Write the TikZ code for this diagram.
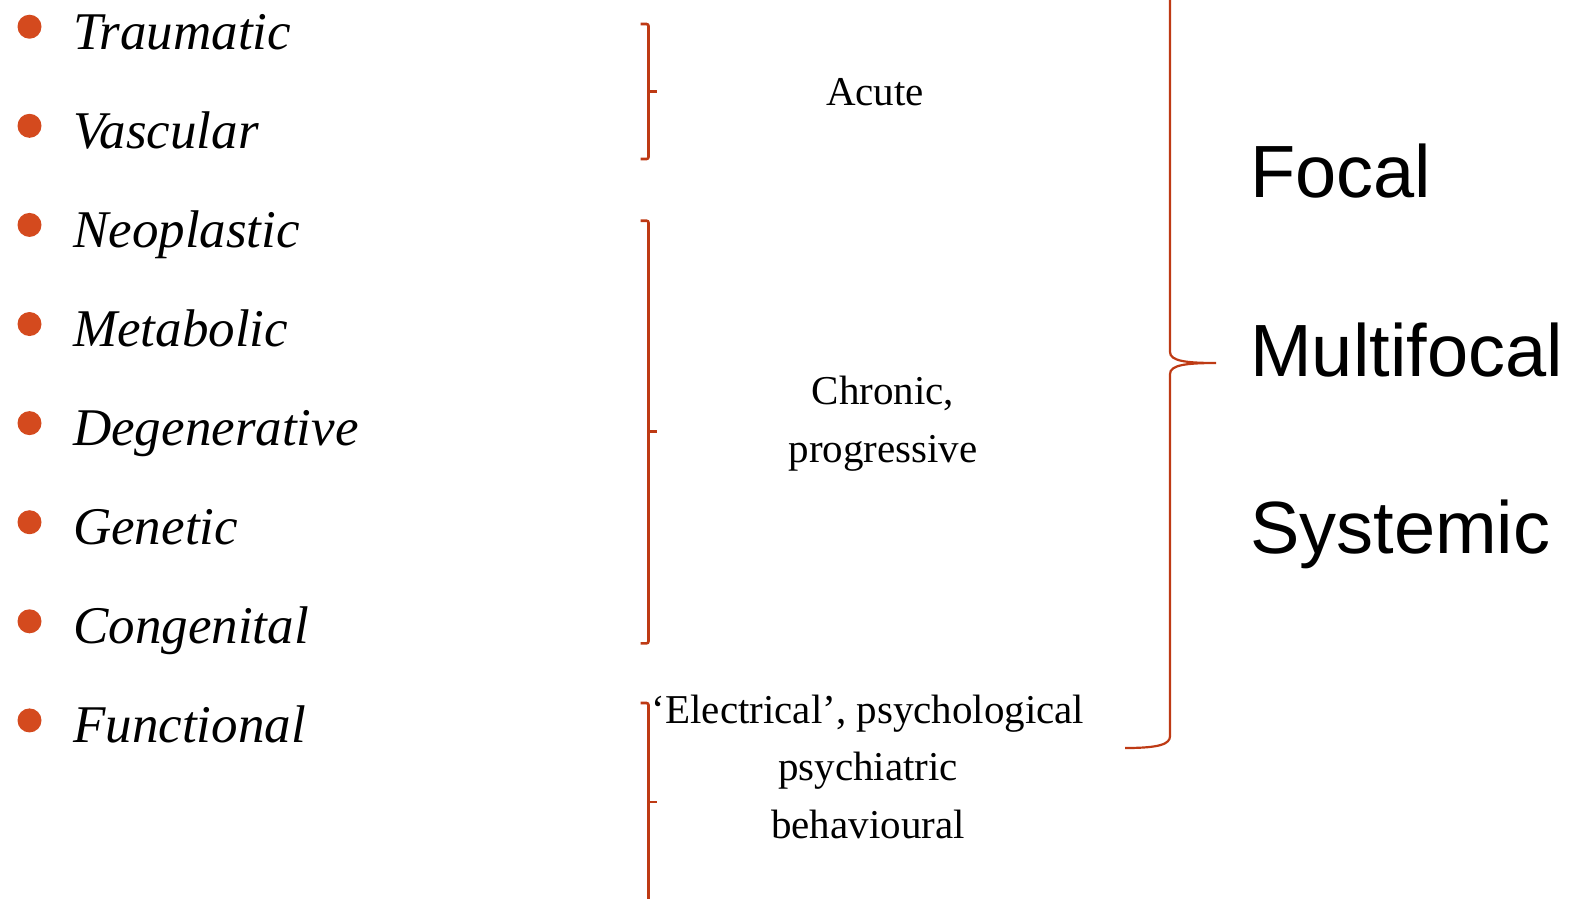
\documentclass[tikz,border=0pt]{standalone}
\usepackage{fontspec}
\setmainfont{Liberation Serif}
\setsansfont{Liberation Sans}
\usepackage{tikz}
\definecolor{bulletred}{RGB}{212,74,30}
\definecolor{bracered}{RGB}{190,58,20}
\tikzset{
    bracket/.style={draw=bracered, line width=2.6, rounded corners=2},
    item/.style={font=\fontsize{53}{60}\selectfont\itshape, inner sep=0, anchor=base west},
    group/.style={font=\fontsize{41}{57.5}\selectfont, align=center, inner sep=0, anchor=base},
    extent/.style={font=\sffamily\fontsize{74}{80}\selectfont, inner sep=0, anchor=base west}
}
\newcommand{\groupBracket}[5]{
    % Corner points of the bracket
    \coordinate (#1top) at (#2,#3);
    \coordinate (#1tick) at (#2,#4);
    \coordinate (#1bot) at (#2,#5);

    % Draw the bracket and its middle tick
    \draw[bracket] ([xshift=-8]#1top) -- (#1top) -- (#1bot) -- ([xshift=-8]#1bot);
    \draw[bracket, rounded corners=0] (#1tick) -- ++(8.5,0);
}

\begin{document}
\begin{tikzpicture}[x=1pt, y=-1pt]
  \useasboundingbox (0,0) rectangle (1578,898);
  \clip (0,0) rectangle (1578,898);

  % Bulleted list of causes
  \foreach \name [count=\i from 0] in {Traumatic,Vascular,Neoplastic,Metabolic,Degenerative,Genetic,Congenital,Functional} {
    \fill[bulletred] (29.5,26.7+99.1*\i) circle [radius=12];
    \node[item] (\name) at (73,49.2+99.1*\i) {\name};
  }

  % Brackets grouping the causes
  \groupBracket{acute}{648.5}{24}{91.7}{159}
  \groupBracket{chronic}{648.5}{220.7}{431.7}{643.3}
  \groupBracket{func}{648.5}{703}{802}{960}

  % Label the groups (base is the last line)
  \node[group] (acute) at (875,105) {Acute};
  \node[group] (chronic) at (883,462) {Chronic,\\progressive};
  \node[group] (func) at (868,838) {`Electrical', psychological\\psychiatric\\behavioural};

  % Big brace on the right
  \coordinate (bracetop) at (1125,-22);
  \coordinate (bracetip) at (1216,363);
  \coordinate (bracebot) at (1125,748);
  \draw[draw=bracered, line width=2.2]
    (bracetop) .. controls (1160,-22) and (1170,-18) .. (1170,-10)
    -- (1170,352) .. controls (1170,361) and (1186,363) .. (bracetip)
    .. controls (1186,363) and (1170,365) .. (1170,374)
    -- (1170,736) .. controls (1170,744) and (1160,748) .. (bracebot);

  % Extent of the lesion
  \node[extent] (focal) at (1250,197) {Focal};
  \node[extent] (multi) at (1250,376) {Multifocal};
  \node[extent] (systemic) at (1250,553) {Systemic};
\end{tikzpicture}
\end{document}
